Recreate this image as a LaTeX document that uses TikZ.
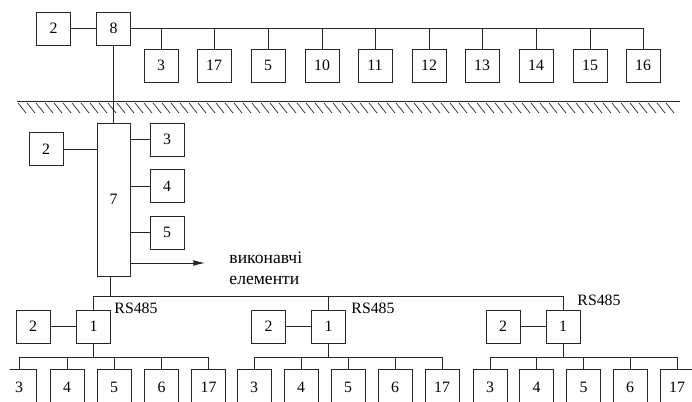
\documentclass[tikz,border=0pt]{standalone}
\usepackage{fontspec}
\setmainfont{Liberation Serif}
\usetikzlibrary{arrows.meta}

\begin{document}
\begin{tikzpicture}[
    x=0.03cm, y=-0.03cm,
    font=\fontsize{13.5}{18}\selectfont,
    line width=0.8pt, draw=black!85,
    box/.style={draw, minimum width=34*0.03cm, minimum height=33*0.03cm, inner sep=1pt},
    tall/.style={box, minimum width=33*0.03cm, minimum height=153*0.03cm},
    low/.style={box, minimum height=36*0.03cm},
    lbl/.style={inner sep=0pt, anchor=west},
    ar/.style={-{Latex[length=10pt,width=5pt]}},
  ]
    \useasboundingbox (0,0) rectangle (692,402);
    \clip (9.5,-5) rectangle (700,402);

    % surface level
    \node[box] (pwrT) at (53.5,28.5) {2};
    \node[box] (hub) at (113.5,28.5) {8};
    \node[box] (T3) at (161,65.5) {3};
    \node[box] (T17) at (214,65.5) {17};
    \node[box] (T5) at (268,65.5) {5};
    \node[box] (T10) at (322,65.5) {10};
    \node[box] (T11) at (375,65.5) {11};
    \node[box] (T12) at (429,65.5) {12};
    \node[box] (T13) at (482,65.5) {13};
    \node[box] (T14) at (536,65.5) {14};
    \node[box] (T15) at (590,65.5) {15};
    \node[box] (T16) at (643,65.5) {16};

    \draw (pwrT) -- (hub);
    \draw (hub) -- (T16.north |- hub) -- (T16);
    \draw (T3.north |- hub) -- (T3);
    \draw (T17.north |- hub) -- (T17);
    \draw (T5.north |- hub) -- (T5);
    \draw (T10.north |- hub) -- (T10);
    \draw (T11.north |- hub) -- (T11);
    \draw (T12.north |- hub) -- (T12);
    \draw (T13.north |- hub) -- (T13);
    \draw (T14.north |- hub) -- (T14);
    \draw (T15.north |- hub) -- (T15);

    % ground
    \draw (17,101) -- (680,101);
    \foreach \x in {18,27,...,672}
      \draw[line width=0.6pt] (\x,103) -- ++(8,10);

    % underground station
    \node[tall] (main) at (113.5,199.5) {7};
    \node[box] (pwrM) at (46,149) {2};
    \node[box] (S3) at (167,139.5) {3};
    \node[box] (S4) at (167,186) {4};
    \node[box] (S5) at (167,232.5) {5};
    \coordinate (act) at (205,263);
    \node[lbl, anchor=north west, align=left, font=\fontsize{15}{18}\selectfont] (actlbl) at (229,251) {виконавчі\\елементи};

    \draw (hub) -- (main);
    \draw (pwrM) -- (pwrM -| main.west);
    \draw (main.east |- S3) -- (S3);
    \draw (main.east |- S4) -- (S4);
    \draw (main.east |- S5) -- (S5);
    \draw[ar] (main.east |- act) -- (act);

    % RS485 line
    \coordinate (bus) at (110,296);
    \node[box] (ctlA) at (93.5,326.5) {1};
    \node[box] (pwrA) at (33,326.5) {2};
    \node[box] (ctlB) at (328.5,326.5) {1};
    \node[box] (pwrB) at (268.5,326.5) {2};
    \node[box] (ctlC) at (563,326.5) {1};
    \node[box] (pwrC) at (503,326.5) {2};
    \node[lbl] (rsA) at (114,308) {RS485};
    \node[lbl] (rsB) at (351,308) {RS485};
    \node[lbl] (rsC) at (577,300) {RS485};

    \draw (main.south -| bus) -- (bus);
    \draw (ctlA) -- (ctlA |- bus) -- (ctlC |- bus) -- (ctlC);
    \draw (ctlB |- bus) -- (ctlB);
    \draw (pwrA) -- (ctlA);
    \draw (pwrB) -- (ctlB);
    \draw (pwrC) -- (ctlC);

    % sensors of each controller
    \coordinate (subA) at (93.5,357);
    \coordinate (subB) at (328.5,357);
    \coordinate (subC) at (563,357);

    \node[low] (A3) at (19,387) {3};
    \node[low] (A4) at (67,387) {4};
    \node[low] (A5) at (114,387) {5};
    \node[low] (A6) at (161.5,387) {6};
    \node[low] (A17) at (208.5,387) {17};

    \node[low] (B3) at (254,387) {3};
    \node[low] (B4) at (301,387) {4};
    \node[low] (B5) at (348,387) {5};
    \node[low] (B6) at (395,387) {6};
    \node[low] (B17) at (442,387) {17};

    \node[low] (C3) at (490,387) {3};
    \node[low] (C4) at (536.5,387) {4};
    \node[low] (C5) at (583.5,387) {5};
    \node[low] (C6) at (630,387) {6};
    \node[low] (C17) at (677,387) {17};

    \draw (ctlA) -- (subA);
    \draw (A3) -- (A3 |- subA) -- (A17 |- subA) -- (A17);
    \draw (A4 |- subA) -- (A4);
    \draw (A5 |- subA) -- (A5);
    \draw (A6 |- subA) -- (A6);

    \draw (ctlB) -- (subB);
    \draw (B3) -- (B3 |- subB) -- (B17 |- subB) -- (B17);
    \draw (B4 |- subB) -- (B4);
    \draw (B5 |- subB) -- (B5);
    \draw (B6 |- subB) -- (B6);

    \draw (ctlC) -- (subC);
    \draw (C3) -- (C3 |- subC) -- (C17 |- subC) -- (C17);
    \draw (C4 |- subC) -- (C4);
    \draw (C5 |- subC) -- (C5);
    \draw (C6 |- subC) -- (C6);
  \end{tikzpicture}
\end{document}
